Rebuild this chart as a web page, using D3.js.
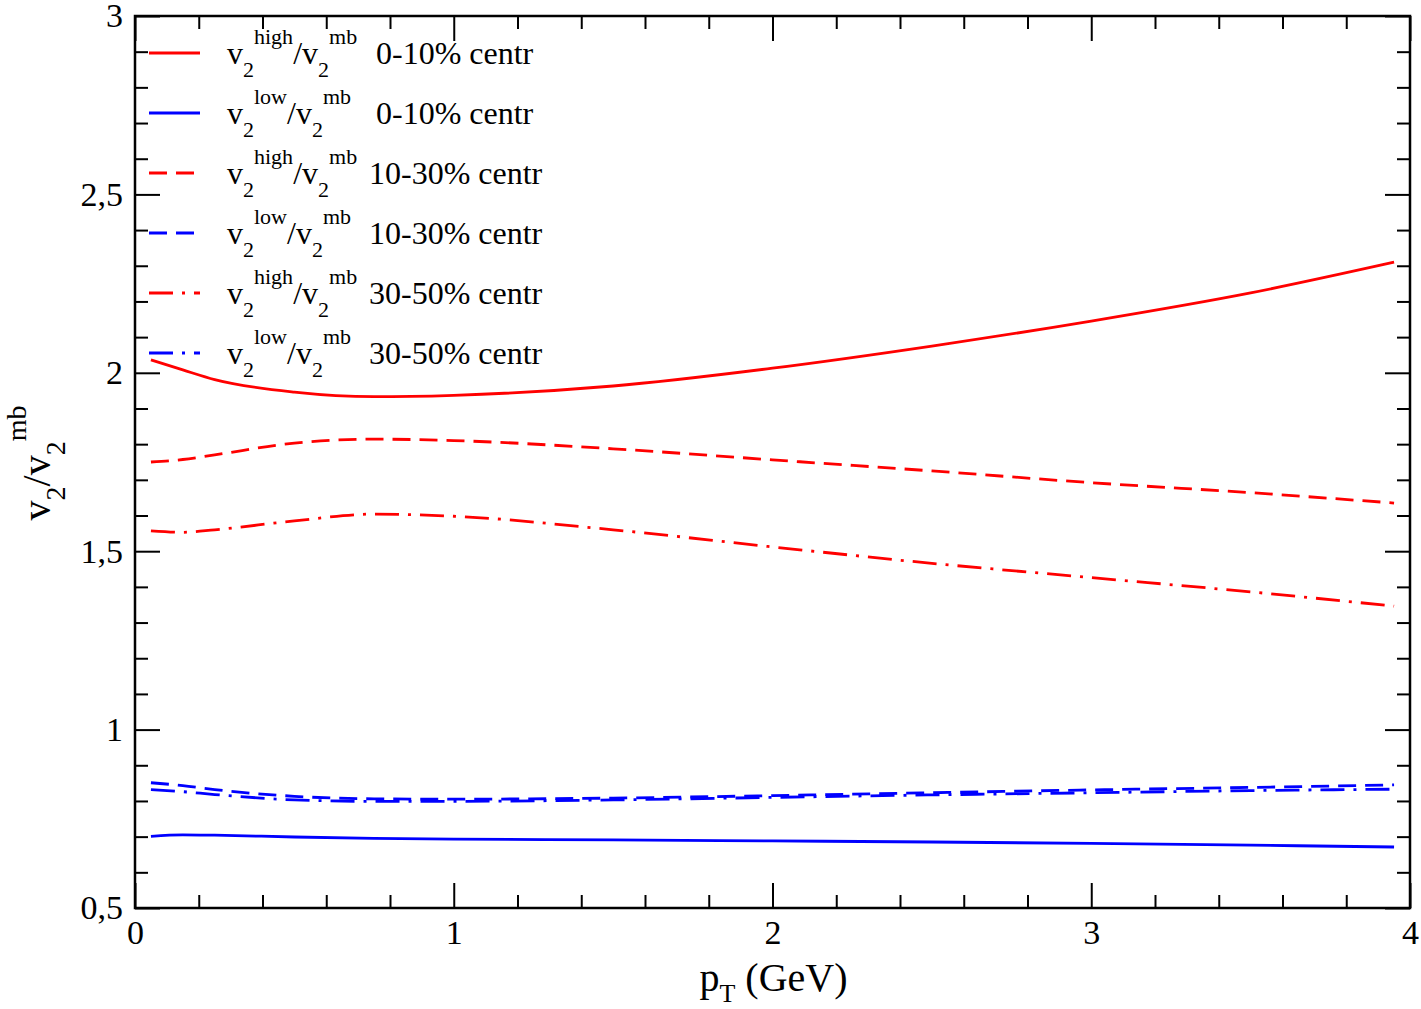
<!DOCTYPE html>
<html>
<head>
<meta charset="utf-8">
<script src="https://cdn.jsdelivr.net/npm/d3@7"></script>
<style>
  body { margin: 0; background: #fff; }
  text { font-family: "Liberation Serif", "Times New Roman", serif; fill: #000; }
</style>
</head>
<body>
<svg id="chart"></svg>
<script>
// p_T grid (GeV) shared by all curves
const pt = [0.05, 0.15, 0.25, 0.5, 0.75, 1, 1.5, 2, 2.5, 3, 3.5, 3.95];

const highCentral = [2.036, 2.008, 1.981, 1.946, 1.933, 1.937, 1.963, 2.013, 2.075, 2.145, 2.224, 2.31];
const lowCentral  = [0.701, 0.705, 0.704, 0.699, 0.695, 0.693, 0.691, 0.688, 0.685, 0.681, 0.676, 0.671];
const highMid     = [1.750, 1.757, 1.770, 1.803, 1.814, 1.810, 1.787, 1.756, 1.725, 1.692, 1.664, 1.635];
const lowMid      = [0.851, 0.843, 0.832, 0.813, 0.806, 0.805, 0.808, 0.815, 0.823, 0.831, 0.838, 0.845];
const highPeriph  = [1.557, 1.553, 1.560, 1.585, 1.604, 1.598, 1.560, 1.512, 1.466, 1.426, 1.386, 1.346];
const lowPeriph   = [0.832, 0.826, 0.818, 0.803, 0.799, 0.799, 0.803, 0.810, 0.817, 0.823, 0.829, 0.833];

const series = [
  { kind: 'high', centr: '0-10% centr',  values: highCentral, color: 'red',  dash: null },
  { kind: 'low',  centr: '0-10% centr',  values: lowCentral,  color: 'blue', dash: null },
  { kind: 'high', centr: '10-30% centr', values: highMid,     color: 'red',  dash: '18,9' },
  { kind: 'low',  centr: '10-30% centr', values: lowMid,      color: 'blue', dash: '18,9' },
  { kind: 'high', centr: '30-50% centr', values: highPeriph,  color: 'red',  dash: '24,9,3,9' },
  { kind: 'low',  centr: '30-50% centr', values: lowPeriph,   color: 'blue', dash: '24,9,3,9' }
];

const xMajor = [0, 1, 2, 3, 4];
const yMajor = [0.5, 1, 1.5, 2, 2.5, 3];

const W = 1421, H = 1009;
const m = { left: 135, top: 16, right: 11, bottom: 101 };
const w = W - m.left - m.right, h = H - m.top - m.bottom;

const svg = d3.select('#chart').attr('width', W).attr('height', H);
const g = svg.append('g').attr('transform', `translate(${m.left},${m.top})`);

const x = d3.scaleLinear().domain([0, 4]).range([0, w]);
const y = d3.scaleLinear().domain([0.5, 3]).range([h, 0]);

const xMinor = d3.range(0, 4.001, 0.2).filter(v => Math.abs(v - Math.round(v)) > 1e-6);
const yMinor = d3.range(0.5, 3.001, 0.1).filter(v => Math.abs(v * 2 - Math.round(v * 2)) > 1e-6);
const fmt = d => String(d).replace('.', ',');

function axis(gen, scale, vals, size, labels) {
  return gen(scale).tickValues(vals).tickSize(-size)
    .tickFormat(labels ? fmt : '').tickPadding(12);
}

const axes = g.append('g').attr('class', 'axes');
// bottom
axes.append('g').attr('transform', `translate(0,${h})`).call(axis(d3.axisBottom, x, xMajor, 25, true));
axes.append('g').attr('transform', `translate(0,${h})`).call(axis(d3.axisBottom, x, xMinor, 13, false));
// top
axes.append('g').call(axis(d3.axisTop, x, xMajor, 25, false));
axes.append('g').call(axis(d3.axisTop, x, xMinor, 13, false));
// left
axes.append('g').call(axis(d3.axisLeft, y, yMajor, 25, true));
axes.append('g').call(axis(d3.axisLeft, y, yMinor, 13, false));
// right
axes.append('g').attr('transform', `translate(${w},0)`).call(axis(d3.axisRight, y, yMajor, 25, false));
axes.append('g').attr('transform', `translate(${w},0)`).call(axis(d3.axisRight, y, yMinor, 13, false));

axes.selectAll('.domain').remove();
axes.selectAll('.tick line').attr('stroke', '#000').attr('stroke-width', 2);
axes.selectAll('.tick text').attr('font-size', 34).attr('fill', '#000');

g.append('rect').attr('width', w).attr('height', h)
  .attr('fill', 'none').attr('stroke', '#000').attr('stroke-width', 2.5);

// curves
const line = d3.line()
  .x((d, i) => x(pt[i]))
  .y(d => y(d))
  .curve(d3.curveMonotoneX);

g.selectAll('.curve')
  .data(series)
  .join('path')
  .attr('class', 'curve')
  .attr('d', s => line(s.values))
  .attr('fill', 'none')
  .attr('stroke', s => s.color)
  .attr('stroke-width', 2.8)
  .attr('stroke-dasharray', s => s.dash);

// rich text helper: parts = [text, shift] where shift 0 normal, 1 sub, -1 sup
function rich(sel, parts, big, small, sub = 0.42, sup = 0.62) {
  let cur = 0;
  parts.forEach(([t, s]) => {
    const off = s === 1 ? sub * big : s === -1 ? -sup * big : 0;
    sel.append('tspan')
      .attr('dy', off - cur)
      .attr('font-size', s === 0 ? big : small)
      .text(t);
    cur = off;
  });
}

// legend
const leg = svg.append('g').attr('transform', 'translate(149,53)');
series.forEach((s, i) => {
  const row = leg.append('g').attr('transform', `translate(0,${i * 60})`);
  row.append('line').attr('x1', 0).attr('x2', 51)
    .attr('stroke', s.color).attr('stroke-width', 2.8)
    .attr('stroke-dasharray', s.dash);
  const t = row.append('text').attr('x', 78).attr('y', 11).attr('xml:space', 'preserve');
  rich(t, [['v', 0], ['2', 1], [s.kind, -1], ['/v', 0], ['2', 1], ['mb', -1]], 32, 22);
  row.append('text').attr('x', s.centr.startsWith('0-') ? 227 : 220).attr('y', 11)
    .attr('font-size', 32).text(s.centr);
});

// x axis title
const xt = svg.append('text').attr('x', m.left + w / 2 + 1).attr('y', 991)
  .attr('text-anchor', 'middle');
rich(xt, [['p', 0], ['T', 1], [' (GeV)', 0]], 40, 26, 0.28);

// y axis title
const yt = svg.append('text').attr('transform', 'translate(50,463) rotate(-90)')
  .attr('text-anchor', 'middle');
rich(yt, [['v', 0], ['2', 1], ['/v', 0], ['2', 1], ['mb', -1]], 40, 28, 0.38, 0.6);
</script>
</body>
</html>
